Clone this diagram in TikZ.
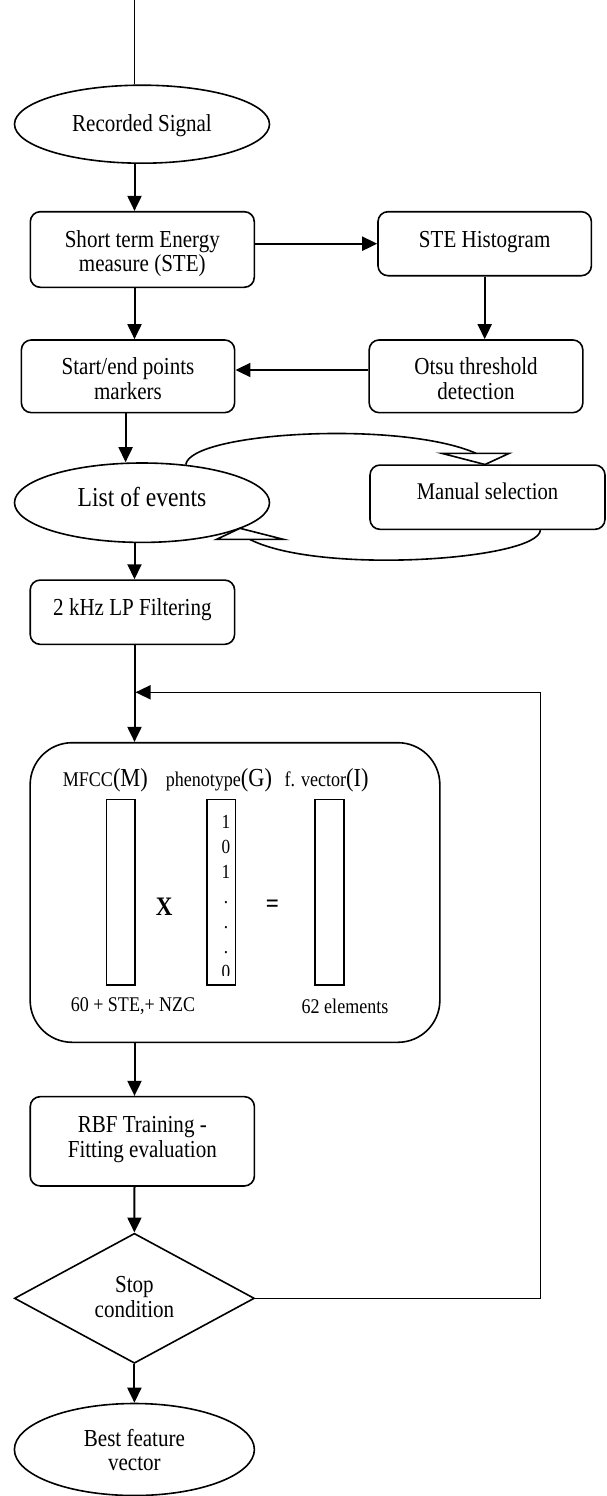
\documentclass[tikz,border=0pt]{standalone}
\usepackage{graphicx}
\usepackage{fontspec}
\setmainfont{Liberation Serif}
\usetikzlibrary{arrows.meta,shapes.geometric,calc}
\newcommand{\mainsz}{\fontsize{24.4}{24.6}\selectfont}
\newcommand{\smallsz}{\fontsize{20.9}{23}\selectfont}
\newcommand{\bigp}[1]{{\fontsize{26}{26}\selectfont #1}}
\newcommand{\sq}[2][0pt]{\raisebox{#1}[\height][\depth]{\scalebox{0.862}[1]{\begin{tabular}{@{}c@{}}#2\end{tabular}}}}
\newcommand{\sqi}[1]{\scalebox{0.862}[1]{#1}}
\begin{document}
\begin{tikzpicture}[x=1pt,y=-1pt,
  box/.style={draw,line width=1.6pt,rounded corners=10pt,inner sep=0pt,align=center,font=\mainsz},
  oval/.style={draw,line width=1.6pt,ellipse,inner sep=0pt,align=center,font=\mainsz},
  arr/.style={line width=2pt,-{Triangle[length=15pt,width=14pt]}},
  plain/.style={line width=1.6pt},
  hollow/.style={line width=1.6pt,fill=white,line join=miter},
  vecbox/.style={draw,line width=1.6pt,inner sep=0pt,minimum width=28.5pt,minimum height=185.7pt},
  lbl/.style={inner sep=0pt,font=\smallsz},
  digit/.style={inner sep=0pt,anchor=base,font=\fontsize{20}{24}\selectfont}
]
\useasboundingbox (0,0) rectangle (606,1496);

% spine coordinates
\coordinate (topin) at (134.5,0);
\coordinate (sx) at (125.6,0);
\coordinate (fb) at (540.4,692.3);
\coordinate (join) at (135.5,692.3);

% nodes
\node[oval,minimum width=255pt,minimum height=78pt] (rec) at (142,124.2) {\sq[-2pt]{Recorded Signal}};
\node[box,minimum width=224pt,minimum height=75.6pt] (ste) at (142.3,249.5) {\sq[-5pt]{Short term Energy\\measure (STE)}};
\node[box,minimum width=213.4pt,minimum height=64pt] (hist) at (484.7,243.7) {\sq[1.4pt]{STE Histogram}};
\node[box,minimum width=213.3pt,minimum height=72.7pt] (start) at (128,376.3) {\sq[-6pt]{Start/end points\\markers}};
\node[box,minimum width=213.7pt,minimum height=72.7pt] (otsu) at (476,376.3) {\sq[-6pt]{Otsu threshold\\detection}};
\node[oval,minimum width=255pt,minimum height=79.4pt,font=\fontsize{27.4}{28}\selectfont] (events) at (142,502.7) {\sq[1.4pt]{List of events}};
\node[box,minimum width=235pt,minimum height=64.3pt,font=\fontsize{23.9}{24}\selectfont] (manual) at (487.5,497.2) {\sq[2.5pt]{Manual selection}};
\node[box,minimum width=204.4pt,minimum height=64.3pt] (filt) at (132.4,612.2) {\sq[1.5pt]{2 kHz LP Filtering}};
\node[draw,line width=1.6pt,rounded corners=42pt,inner sep=0pt,minimum width=409.7pt,minimum height=299.6pt] (mat) at (235,892.5) {};
\node[box,minimum width=224.2pt,minimum height=89.3pt] (rbf) at (142.3,1141.3) {\sq[1pt]{RBF Training -\\Fitting evaluation}};
\node[draw,line width=1.6pt,diamond,aspect=1.85,inner sep=0pt,minimum width=240pt,minimum height=130pt,align=center,font=\mainsz] (stop) at (134.4,1298.3) {\sq[-2pt]{Stop\\condition}};
\node[oval,minimum width=240pt,minimum height=92pt] (best) at (134.4,1449.5) {\sq[-4pt]{Best feature\\vector}};

% matrix content
\node[lbl] (lM) at (105.4,780.7) {\sqi{MFCC\bigp{(M)}}};
\node[lbl] (lG) at (219,780.7) {\sqi{phenotype\bigp{(G)}}};
\node[lbl] (lI) at (326.6,780.7) {\sqi{f. vector\bigp{(I)}}};
\node[vecbox] (rM) at (120.8,892.2) {};
\begin{scope}
\clip (207.3,799.3) rectangle (235,975);
\node[digit] (g1) at (226,828.3) {\sqi{1}};
\node[digit] (g2) at (226,853.3) {\sqi{0}};
\node[digit] (g3) at (226,878.3) {\sqi{1}};
\node[digit] (g4) at (226,903.3) {\sqi{.}};
\node[digit] (g5) at (226,928.3) {\sqi{.}};
\node[digit] (g6) at (226,953.3) {\sqi{.}};
\node[digit] (g7) at (226,978.3) {\sqi{0}};
\end{scope}
\node[vecbox] (rG) at (221.2,892.2) {};
\node[vecbox] (rI) at (329.5,892.2) {};
\node[inner sep=0pt,font=\bfseries\fontsize{26.7}{28}\selectfont] (times) at (164.3,906.7) {\sqi{X}};
\node[inner sep=0pt,font=\bfseries\fontsize{26.7}{28}\selectfont] (eq) at (272.5,906.7) {\sqi{=}};
\node[lbl] (bM) at (133,1006) {\sqi{60 + STE,+ NZC}};
\node[lbl] (bI) at (345,1006) {\sqi{62 elements}};

% connectors
\draw[line width=1.3pt] (topin) -- (topin |- rec.north);
\draw[arr] (rec.south -| topin) -- (ste.north -| topin);
\draw[arr] (ste.east |- hist.center) -- (hist.west);
\draw[arr] (ste.south -| topin) -- (start.north -| topin);
\draw[arr] (hist.south) -- (otsu.north -| hist.south);
\draw[arr] ([yshift=6.3pt]otsu.west) -- ([yshift=6.3pt]start.east);
\draw[arr] (start.south -| sx) -- (events.north -| sx);
\draw[arr] (events.south -| topin) -- (filt.north -| topin);
\draw[arr] (filt.south -| topin) -- (mat.north -| topin);
\draw[arr] (mat.south -| topin) -- (rbf.north -| topin);
\draw[arr] (rbf.south -| topin) -- (stop.north);
\draw[arr] (stop.south) -- (best.north);
\draw[arr,line width=1.6pt] (stop.east) -| (fb) -- (join);

% loop through manual selection
\draw[plain] (events.41) .. controls (190,432) and (400,420) .. (476,453.3);
\draw[hollow] (441.7,453.3) -- (509.3,453.3) -- (485,464.5) -- cycle;
\draw[plain] (manual.south -| fb) .. controls (538,560) and (320,575) .. (250,539.5);
\draw[hollow] (216.7,539.3) -- (283.3,539.3) -- (240,528.3) -- cycle;
\end{tikzpicture}
\end{document}
